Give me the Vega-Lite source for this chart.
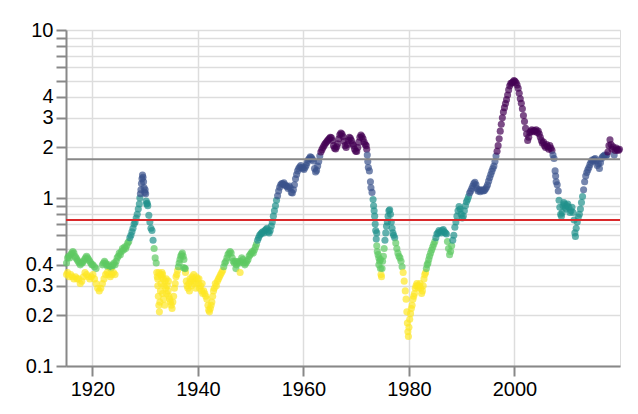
{
  "$schema": "https://vega.github.io/schema/vega-lite/v6.json",
  "autosize": "none",
  "width": 554,
  "height": 336,
  "padding": {"left": 66, "top": 30, "right": 18, "bottom": 48},
  "config": {
    "font": "Liberation Sans",
    "axis": {"labelFontSize": 20, "tickSize": 10, "tickWidth": 2, "domainWidth": 2, "gridWidth": 1.5, "labelPadding": 3, "title": null}
  },
  "layer": [
    {
      "data": {"values": [
        {"t":1915.1,"v":0.41},{"t":1915.3,"v":0.44},{"t":1915.5,"v":0.45},{"t":1915.7,"v":0.44},{"t":1915.9,"v":0.46},
        {"t":1916.1,"v":0.47},{"t":1916.3,"v":0.48},{"t":1916.5,"v":0.47},{"t":1916.7,"v":0.45},{"t":1916.9,"v":0.44},
        {"t":1917.1,"v":0.43},{"t":1917.3,"v":0.42},{"t":1917.5,"v":0.41},{"t":1917.7,"v":0.40},{"t":1917.9,"v":0.41},
        {"t":1918.1,"v":0.41},{"t":1918.3,"v":0.42},{"t":1918.5,"v":0.43},{"t":1918.7,"v":0.44},{"t":1918.9,"v":0.45},
        {"t":1919.1,"v":0.44},{"t":1919.3,"v":0.43},{"t":1919.5,"v":0.42},{"t":1919.7,"v":0.41},{"t":1919.9,"v":0.40},
        {"t":1920.1,"v":0.40},{"t":1920.4,"v":0.39},{"t":1920.7,"v":0.38},
        {"t":1921.9,"v":0.40},{"t":1922.1,"v":0.41},{"t":1922.3,"v":0.42},{"t":1922.5,"v":0.41},{"t":1922.7,"v":0.40},{"t":1922.9,"v":0.39},
        {"t":1923.1,"v":0.40},{"t":1923.3,"v":0.39},{"t":1923.5,"v":0.38},{"t":1923.7,"v":0.39},{"t":1923.9,"v":0.40},
        {"t":1924.1,"v":0.41},{"t":1924.3,"v":0.40},{"t":1924.5,"v":0.42},{"t":1924.7,"v":0.44},{"t":1924.9,"v":0.45},
        {"t":1925.1,"v":0.47},{"t":1925.3,"v":0.46},{"t":1925.5,"v":0.48},{"t":1925.7,"v":0.50},{"t":1925.9,"v":0.49},
        {"t":1926.1,"v":0.51},{"t":1926.3,"v":0.50},{"t":1926.5,"v":0.52},{"t":1926.7,"v":0.54},{"t":1926.9,"v":0.55},
        {"t":1927.1,"v":0.58},{"t":1927.3,"v":0.60},{"t":1927.5,"v":0.63},{"t":1927.7,"v":0.66},{"t":1927.9,"v":0.70},
        {"t":1928.1,"v":0.72},{"t":1928.3,"v":0.76},{"t":1928.5,"v":0.80},{"t":1928.7,"v":0.86},{"t":1928.9,"v":0.92},
        {"t":1929.0,"v":1.0},{"t":1929.1,"v":1.06},{"t":1929.2,"v":1.12},{"t":1929.3,"v":1.22},{"t":1929.4,"v":1.30},
        {"t":1929.5,"v":1.37},{"t":1929.6,"v":1.33},{"t":1929.7,"v":1.25},{"t":1929.8,"v":1.15},{"t":1929.9,"v":1.08},
        {"t":1930.0,"v":1.12},{"t":1930.1,"v":1.06},{"t":1930.2,"v":0.96},{"t":1930.3,"v":0.92},{"t":1930.4,"v":0.93},
        {"t":1930.5,"v":0.90},{"t":1930.7,"v":0.79},{"t":1930.9,"v":0.72},{"t":1931.1,"v":0.66},{"t":1931.3,"v":0.64},
        {"t":1931.5,"v":0.56},{"t":1931.7,"v":0.50},{"t":1931.9,"v":0.44},{"t":1932.1,"v":0.41},{"t":1932.2,"v":0.36},
        {"t":1932.3,"v":0.34},{"t":1932.4,"v":0.30},{"t":1932.5,"v":0.26},{"t":1932.6,"v":0.23},{"t":1932.7,"v":0.21},
        {"t":1932.8,"v":0.24},{"t":1932.9,"v":0.28},{"t":1933.0,"v":0.31},{"t":1933.1,"v":0.34},{"t":1933.2,"v":0.36},
        {"t":1933.3,"v":0.35},{"t":1933.45,"v":0.33},{"t":1933.6,"v":0.30},{"t":1933.75,"v":0.32},{"t":1933.9,"v":0.29},
        {"t":1934.05,"v":0.27},{"t":1934.2,"v":0.30},{"t":1934.35,"v":0.28},{"t":1934.5,"v":0.26},{"t":1934.65,"v":0.25},
        {"t":1934.8,"v":0.24},{"t":1934.95,"v":0.23},{"t":1935.1,"v":0.22},{"t":1935.25,"v":0.24},{"t":1935.4,"v":0.26},
        {"t":1935.55,"v":0.29},{"t":1935.7,"v":0.31},{"t":1935.85,"v":0.34},{"t":1936.0,"v":0.35},{"t":1936.15,"v":0.37},
        {"t":1936.3,"v":0.39},{"t":1936.45,"v":0.41},{"t":1936.6,"v":0.43},{"t":1936.75,"v":0.45},{"t":1936.9,"v":0.46},
        {"t":1937.05,"v":0.47},{"t":1937.2,"v":0.45},{"t":1937.35,"v":0.43},{"t":1937.5,"v":0.38},{"t":1937.65,"v":0.36},
        {"t":1937.8,"v":0.32},{"t":1937.95,"v":0.30},{"t":1938.1,"v":0.29},{"t":1938.3,"v":0.31},{"t":1938.5,"v":0.33},
        {"t":1938.7,"v":0.32},{"t":1938.9,"v":0.34},{"t":1939.1,"v":0.33},{"t":1939.3,"v":0.31},{"t":1939.5,"v":0.32},
        {"t":1939.7,"v":0.34},{"t":1939.9,"v":0.33},{"t":1940.1,"v":0.31},{"t":1940.3,"v":0.29},{"t":1940.5,"v":0.30},
        {"t":1940.7,"v":0.28},{"t":1940.9,"v":0.27},{"t":1941.1,"v":0.28},{"t":1941.3,"v":0.27},{"t":1941.5,"v":0.26},
        {"t":1941.7,"v":0.25},{"t":1941.9,"v":0.23},{"t":1942.05,"v":0.215},{"t":1942.2,"v":0.21},{"t":1942.35,"v":0.22},
        {"t":1942.5,"v":0.23},{"t":1942.65,"v":0.24},{"t":1942.8,"v":0.26},{"t":1942.95,"v":0.28},{"t":1943.1,"v":0.29},
        {"t":1943.3,"v":0.31},{"t":1943.5,"v":0.30},{"t":1943.7,"v":0.32},{"t":1943.9,"v":0.33},{"t":1944.1,"v":0.34},
        {"t":1944.3,"v":0.35},{"t":1944.5,"v":0.36},{"t":1944.7,"v":0.37},{"t":1944.9,"v":0.39},{"t":1945.1,"v":0.41},
        {"t":1945.3,"v":0.42},{"t":1945.5,"v":0.44},{"t":1945.7,"v":0.46},{"t":1945.9,"v":0.47},{"t":1946.1,"v":0.48},
        {"t":1946.3,"v":0.47},{"t":1946.5,"v":0.44},{"t":1946.7,"v":0.42},{"t":1946.9,"v":0.41},{"t":1947.1,"v":0.42},
        {"t":1947.3,"v":0.40},{"t":1947.5,"v":0.41},{"t":1947.7,"v":0.42},{"t":1947.9,"v":0.41},{"t":1948.1,"v":0.42},
        {"t":1948.3,"v":0.44},{"t":1948.5,"v":0.43},{"t":1948.7,"v":0.41},{"t":1948.9,"v":0.40},{"t":1949.1,"v":0.41},
        {"t":1949.3,"v":0.42},{"t":1949.5,"v":0.43},{"t":1949.7,"v":0.45},{"t":1949.9,"v":0.46},{"t":1950.1,"v":0.47},
        {"t":1950.3,"v":0.48},{"t":1950.5,"v":0.47},{"t":1950.7,"v":0.49},{"t":1950.9,"v":0.51},{"t":1951.1,"v":0.53},
        {"t":1951.3,"v":0.56},{"t":1951.5,"v":0.58},{"t":1951.7,"v":0.60},{"t":1951.9,"v":0.61},{"t":1952.1,"v":0.62},
        {"t":1952.3,"v":0.63},{"t":1952.5,"v":0.62},{"t":1952.7,"v":0.64},{"t":1952.9,"v":0.65},{"t":1953.1,"v":0.66},
        {"t":1953.3,"v":0.63},{"t":1953.5,"v":0.62},{"t":1953.7,"v":0.64},{"t":1953.9,"v":0.68},{"t":1954.1,"v":0.72},
        {"t":1954.3,"v":0.78},{"t":1954.5,"v":0.84},{"t":1954.7,"v":0.90},{"t":1954.9,"v":0.97},{"t":1955.1,"v":1.03},
        {"t":1955.3,"v":1.10},{"t":1955.5,"v":1.16},{"t":1955.7,"v":1.20},{"t":1955.9,"v":1.22},{"t":1956.1,"v":1.21},
        {"t":1956.3,"v":1.23},{"t":1956.5,"v":1.20},{"t":1956.7,"v":1.18},{"t":1956.9,"v":1.17},{"t":1957.1,"v":1.14},
        {"t":1957.3,"v":1.18},{"t":1957.5,"v":1.15},{"t":1957.7,"v":1.08},{"t":1957.9,"v":1.07},{"t":1958.1,"v":1.12},
        {"t":1958.3,"v":1.20},{"t":1958.5,"v":1.30},{"t":1958.7,"v":1.38},{"t":1958.9,"v":1.45},{"t":1959.1,"v":1.50},
        {"t":1959.3,"v":1.53},{"t":1959.5,"v":1.56},{"t":1959.7,"v":1.52},{"t":1959.9,"v":1.50},{"t":1960.1,"v":1.48},
        {"t":1960.3,"v":1.52},{"t":1960.5,"v":1.56},{"t":1960.7,"v":1.62},{"t":1960.9,"v":1.68},{"t":1961.1,"v":1.72},
        {"t":1961.3,"v":1.76},{"t":1961.5,"v":1.74},{"t":1961.7,"v":1.70},{"t":1961.9,"v":1.66},{"t":1962.1,"v":1.50},
        {"t":1962.3,"v":1.43},{"t":1962.5,"v":1.46},{"t":1962.7,"v":1.55},{"t":1962.9,"v":1.65},{"t":1963.1,"v":1.78},
        {"t":1963.3,"v":1.88},{"t":1963.5,"v":1.94},{"t":1963.7,"v":2.00},{"t":1963.9,"v":2.05},{"t":1964.1,"v":2.10},
        {"t":1964.3,"v":2.14},{"t":1964.5,"v":2.18},{"t":1964.7,"v":2.22},{"t":1964.9,"v":2.26},{"t":1965.1,"v":2.30},
        {"t":1965.3,"v":2.28},{"t":1965.5,"v":2.20},{"t":1965.7,"v":2.05},{"t":1965.9,"v":1.98},{"t":1966.1,"v":1.96},
        {"t":1966.3,"v":2.02},{"t":1966.5,"v":2.10},{"t":1966.7,"v":2.25},{"t":1966.9,"v":2.38},{"t":1967.1,"v":2.44},
        {"t":1967.3,"v":2.40},{"t":1967.5,"v":2.32},{"t":1967.7,"v":2.18},{"t":1967.9,"v":2.05},{"t":1968.1,"v":2.00},
        {"t":1968.3,"v":2.08},{"t":1968.5,"v":2.20},{"t":1968.7,"v":2.30},{"t":1968.9,"v":2.27},{"t":1969.1,"v":2.20},
        {"t":1969.3,"v":2.10},{"t":1969.5,"v":2.05},{"t":1969.7,"v":1.95},{"t":1969.9,"v":1.90},{"t":1970.1,"v":1.89},
        {"t":1970.3,"v":2.00},{"t":1970.5,"v":2.15},{"t":1970.7,"v":2.30},{"t":1970.9,"v":2.37},{"t":1971.1,"v":2.32},
        {"t":1971.3,"v":2.25},{"t":1971.5,"v":2.15},{"t":1971.7,"v":2.08},{"t":1971.9,"v":2.05},{"t":1972.0,"v":1.95},
        {"t":1972.1,"v":1.80},{"t":1972.2,"v":1.65},{"t":1972.3,"v":1.52},{"t":1972.5,"v":1.45},{"t":1972.7,"v":1.25},
        {"t":1972.8,"v":1.15},{"t":1973.0,"v":1.08},{"t":1973.2,"v":0.98},{"t":1973.3,"v":0.90},{"t":1973.4,"v":0.84},
        {"t":1973.5,"v":0.78},{"t":1973.6,"v":0.70},{"t":1973.7,"v":0.64},{"t":1973.8,"v":0.57},{"t":1973.9,"v":0.52},
        {"t":1974.0,"v":0.48},{"t":1974.15,"v":0.46},{"t":1974.3,"v":0.44},{"t":1974.45,"v":0.42},{"t":1974.6,"v":0.38},
        {"t":1974.7,"v":0.35},{"t":1974.8,"v":0.34},{"t":1974.9,"v":0.38},{"t":1975.0,"v":0.42},{"t":1975.15,"v":0.45},
        {"t":1975.3,"v":0.50},{"t":1975.45,"v":0.56},{"t":1975.6,"v":0.62},{"t":1975.75,"v":0.68},{"t":1975.9,"v":0.72},
        {"t":1976.05,"v":0.78},{"t":1976.2,"v":0.84},{"t":1976.35,"v":0.85},{"t":1976.5,"v":0.80},{"t":1976.65,"v":0.72},
        {"t":1976.8,"v":0.66},{"t":1976.95,"v":0.62},{"t":1977.1,"v":0.60},{"t":1977.3,"v":0.58},{"t":1977.5,"v":0.54},
        {"t":1977.7,"v":0.50},{"t":1977.9,"v":0.47},{"t":1978.1,"v":0.45},{"t":1978.3,"v":0.44},{"t":1978.5,"v":0.42},
        {"t":1978.7,"v":0.39},{"t":1978.9,"v":0.36},{"t":1979.1,"v":0.32},{"t":1979.3,"v":0.28},{"t":1979.45,"v":0.25},
        {"t":1979.6,"v":0.21},{"t":1979.7,"v":0.18},{"t":1979.8,"v":0.16},{"t":1979.9,"v":0.15},{"t":1980.0,"v":0.17},
        {"t":1980.15,"v":0.19},{"t":1980.3,"v":0.205},{"t":1980.45,"v":0.22},{"t":1980.6,"v":0.23},{"t":1980.75,"v":0.25},
        {"t":1980.9,"v":0.26},{"t":1981.05,"v":0.27},{"t":1981.2,"v":0.29},{"t":1981.35,"v":0.30},{"t":1981.5,"v":0.31},
        {"t":1981.65,"v":0.30},{"t":1981.8,"v":0.29},{"t":1981.95,"v":0.30},{"t":1982.1,"v":0.31},{"t":1982.25,"v":0.29},
        {"t":1982.4,"v":0.27},{"t":1982.55,"v":0.28},{"t":1982.7,"v":0.30},{"t":1982.85,"v":0.33},{"t":1983.0,"v":0.35},
        {"t":1983.15,"v":0.36},{"t":1983.3,"v":0.38},{"t":1983.45,"v":0.40},{"t":1983.6,"v":0.41},{"t":1983.75,"v":0.43},
        {"t":1983.9,"v":0.45},{"t":1984.1,"v":0.47},{"t":1984.3,"v":0.49},{"t":1984.5,"v":0.51},{"t":1984.7,"v":0.53},
        {"t":1984.9,"v":0.55},{"t":1985.1,"v":0.58},{"t":1985.3,"v":0.61},{"t":1985.5,"v":0.62},{"t":1985.7,"v":0.64},
        {"t":1985.9,"v":0.63},{"t":1986.1,"v":0.62},{"t":1986.3,"v":0.64},{"t":1986.5,"v":0.65},{"t":1986.7,"v":0.63},
        {"t":1986.9,"v":0.62},{"t":1987.1,"v":0.61},{"t":1987.3,"v":0.55},{"t":1987.5,"v":0.50},{"t":1987.7,"v":0.46},
        {"t":1987.9,"v":0.48},{"t":1988.1,"v":0.52},{"t":1988.3,"v":0.56},{"t":1988.5,"v":0.60},{"t":1988.7,"v":0.67},
        {"t":1988.9,"v":0.72},{"t":1989.1,"v":0.78},{"t":1989.3,"v":0.84},{"t":1989.5,"v":0.89},{"t":1989.7,"v":0.86},
        {"t":1989.9,"v":0.80},{"t":1990.1,"v":0.76},{"t":1990.3,"v":0.78},{"t":1990.5,"v":0.84},{"t":1990.7,"v":0.90},
        {"t":1990.9,"v":0.95},{"t":1991.1,"v":0.98},{"t":1991.3,"v":1.02},{"t":1991.5,"v":1.07},{"t":1991.7,"v":1.10},
        {"t":1991.9,"v":1.14},{"t":1992.1,"v":1.18},{"t":1992.3,"v":1.22},{"t":1992.5,"v":1.24},{"t":1992.7,"v":1.20},
        {"t":1992.9,"v":1.14},{"t":1993.1,"v":1.10},{"t":1993.3,"v":1.12},{"t":1993.5,"v":1.09},{"t":1993.7,"v":1.11},
        {"t":1993.9,"v":1.12},{"t":1994.1,"v":1.10},{"t":1994.3,"v":1.11},{"t":1994.5,"v":1.13},{"t":1994.7,"v":1.16},
        {"t":1994.9,"v":1.20},{"t":1995.1,"v":1.26},{"t":1995.3,"v":1.32},{"t":1995.5,"v":1.38},{"t":1995.7,"v":1.44},
        {"t":1995.9,"v":1.50},{"t":1996.1,"v":1.55},{"t":1996.3,"v":1.65},{"t":1996.5,"v":1.78},{"t":1996.7,"v":1.90},
        {"t":1996.9,"v":2.05},{"t":1997.1,"v":2.25},{"t":1997.3,"v":2.50},{"t":1997.5,"v":2.75},{"t":1997.7,"v":3.0},
        {"t":1997.9,"v":3.25},{"t":1998.1,"v":3.45},{"t":1998.3,"v":3.65},{"t":1998.5,"v":3.85},{"t":1998.7,"v":4.10},
        {"t":1998.9,"v":4.40},{"t":1999.1,"v":4.65},{"t":1999.3,"v":4.80},{"t":1999.5,"v":4.85},{"t":1999.7,"v":4.90},
        {"t":1999.9,"v":5.00},{"t":2000.1,"v":4.95},{"t":2000.3,"v":4.85},{"t":2000.5,"v":4.70},{"t":2000.7,"v":4.50},
        {"t":2000.9,"v":4.20},{"t":2001.1,"v":3.90},{"t":2001.3,"v":3.66},{"t":2001.5,"v":3.40},{"t":2001.7,"v":3.10},
        {"t":2001.9,"v":2.85},{"t":2002.1,"v":2.60},{"t":2002.3,"v":2.40},{"t":2002.5,"v":2.20},{"t":2002.7,"v":2.30},
        {"t":2002.9,"v":2.45},{"t":2003.1,"v":2.50},{"t":2003.3,"v":2.55},{"t":2003.5,"v":2.48},{"t":2003.7,"v":2.52},
        {"t":2003.9,"v":2.50},{"t":2004.1,"v":2.55},{"t":2004.3,"v":2.45},{"t":2004.5,"v":2.50},{"t":2004.7,"v":2.40},
        {"t":2004.9,"v":2.30},{"t":2005.1,"v":2.20},{"t":2005.3,"v":2.12},{"t":2005.5,"v":2.15},{"t":2005.7,"v":2.05},
        {"t":2005.9,"v":2.00},{"t":2006.1,"v":2.08},{"t":2006.3,"v":2.02},{"t":2006.5,"v":1.95},{"t":2006.7,"v":2.05},
        {"t":2006.9,"v":1.98},{"t":2007.1,"v":1.92},{"t":2007.3,"v":1.80},{"t":2007.5,"v":1.72},{"t":2007.7,"v":1.45},
        {"t":2007.8,"v":1.35},{"t":2007.9,"v":1.25},{"t":2008.1,"v":1.20},{"t":2008.3,"v":1.10},{"t":2008.45,"v":0.97},
        {"t":2008.6,"v":0.88},{"t":2008.75,"v":0.80},{"t":2008.9,"v":0.78},{"t":2009.05,"v":0.82},{"t":2009.2,"v":0.90},
        {"t":2009.35,"v":0.94},{"t":2009.5,"v":0.92},{"t":2009.65,"v":0.88},{"t":2009.8,"v":0.86},{"t":2009.95,"v":0.90},
        {"t":2010.1,"v":0.92},{"t":2010.3,"v":0.88},{"t":2010.5,"v":0.82},{"t":2010.7,"v":0.84},{"t":2010.9,"v":0.88},
        {"t":2011.1,"v":0.82},{"t":2011.3,"v":0.74},{"t":2011.45,"v":0.62},{"t":2011.55,"v":0.59},{"t":2011.7,"v":0.66},
        {"t":2011.9,"v":0.72},{"t":2012.1,"v":0.77},{"t":2012.3,"v":0.80},{"t":2012.5,"v":0.86},{"t":2012.7,"v":0.94},
        {"t":2012.9,"v":1.02},{"t":2013.1,"v":1.12},{"t":2013.3,"v":1.25},{"t":2013.5,"v":1.35},{"t":2013.7,"v":1.42},
        {"t":2013.9,"v":1.47},{"t":2014.1,"v":1.52},{"t":2014.3,"v":1.58},{"t":2014.5,"v":1.63},{"t":2014.7,"v":1.68},
        {"t":2014.9,"v":1.66},{"t":2015.1,"v":1.70},{"t":2015.3,"v":1.72},{"t":2015.5,"v":1.66},{"t":2015.7,"v":1.56},
        {"t":2015.9,"v":1.60},{"t":2016.1,"v":1.50},{"t":2016.3,"v":1.62},{"t":2016.5,"v":1.72},{"t":2016.7,"v":1.76},
        {"t":2016.9,"v":1.78},{"t":2017.1,"v":1.80},{"t":2017.3,"v":1.78},{"t":2017.5,"v":1.80},{"t":2017.7,"v":1.88},
        {"t":2017.9,"v":2.05},{"t":2018.1,"v":2.22},{"t":2018.3,"v":2.08},{"t":2018.5,"v":1.95},{"t":2018.7,"v":2.02},
        {"t":2018.9,"v":1.80},{"t":2019.1,"v":1.92},{"t":2019.3,"v":1.98},{"t":2019.5,"v":1.94},{"t":2019.7,"v":1.92},
        {"t":2019.9,"v":1.95},
        {"t":1915.1,"v":0.35},{"t":1915.3,"v":0.36},{"t":1915.6,"v":0.34},{"t":1915.9,"v":0.35},{"t":1916.2,"v":0.34},
        {"t":1916.5,"v":0.33},{"t":1916.8,"v":0.34},{"t":1917.1,"v":0.33},{"t":1917.4,"v":0.33},{"t":1917.7,"v":0.31},
        {"t":1918.0,"v":0.32},{"t":1918.3,"v":0.34},{"t":1918.6,"v":0.36},{"t":1918.9,"v":0.35},{"t":1919.2,"v":0.34},
        {"t":1919.5,"v":0.33},{"t":1919.8,"v":0.34},{"t":1920.1,"v":0.35},{"t":1920.4,"v":0.33},{"t":1920.7,"v":0.31},
        {"t":1921.0,"v":0.29},{"t":1921.3,"v":0.28},{"t":1921.6,"v":0.29},{"t":1921.9,"v":0.31},{"t":1922.2,"v":0.33},
        {"t":1922.5,"v":0.35},{"t":1922.8,"v":0.36},{"t":1923.1,"v":0.35},{"t":1923.4,"v":0.34},{"t":1923.7,"v":0.35},
        {"t":1924.0,"v":0.36},{"t":1924.3,"v":0.35},
        {"t":1932.4,"v":0.33},{"t":1932.6,"v":0.36},{"t":1932.9,"v":0.35},{"t":1933.3,"v":0.27},{"t":1933.5,"v":0.25},
        {"t":1933.7,"v":0.23},{"t":1934.0,"v":0.33},{"t":1934.4,"v":0.32},{"t":1937.3,"v":0.385},{"t":1937.6,"v":0.38},
        {"t":1938.4,"v":0.28},{"t":1938.8,"v":0.30},{"t":1939.2,"v":0.35},{"t":1939.6,"v":0.29},{"t":1940.2,"v":0.33},
        {"t":1940.8,"v":0.31},{"t":1947.2,"v":0.38},{"t":1948.0,"v":0.36},{"t":1974.3,"v":0.40},{"t":1974.6,"v":0.43},
        {"t":1973.9,"v":0.62}
      ]},
      "mark": {"type": "circle", "size": 50, "opacity": 0.7},
      "encoding": {
        "x": {"field": "t", "type": "quantitative", "scale": {"domain": [1915, 2020], "nice": false, "zero": false},
              "axis": {"values": [1920, 1940, 1960, 1980, 2000], "format": "d", "labelFontSize": 20}},
        "y": {"field": "v", "type": "quantitative", "scale": {"type": "log", "domain": [0.1, 10]},
              "axis": {"labelFontSize": 20}},
        "color": {"field": "v", "type": "quantitative", "legend": null,
                  "scale": {"type": "threshold", "domain": [0.375, 0.56, 1.03, 1.82],
                            "range": ["#fde725", "#5ec962", "#21918c", "#3b528b", "#440154"]}}
      }
    },
    {
      "data": {"values": [{"v": 1.70}]},
      "mark": {"type": "rule", "color": "#888", "strokeWidth": 2},
      "encoding": {"y": {"field": "v", "type": "quantitative"}}
    },
    {
      "data": {"values": [{"v": 0.739}]},
      "mark": {"type": "rule", "color": "#d9292b", "strokeWidth": 2},
      "encoding": {"y": {"field": "v", "type": "quantitative"}}
    }
  ]
}
